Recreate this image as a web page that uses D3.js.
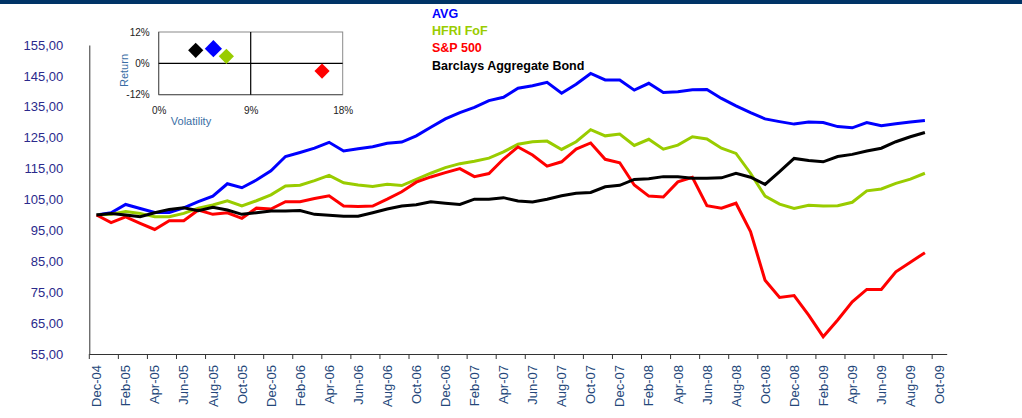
<!DOCTYPE html>
<html>
<head>
<meta charset="utf-8">
<script src="https://cdn.jsdelivr.net/npm/d3@7"></script>
<style>
  body { margin: 0; background: #fff; }
  svg { display: block; font-family: Arial, "Liberation Sans", sans-serif; }
</style>
</head>
<body>
<svg id="chart" width="1022" height="418"></svg>
<script>
// ---------- data ----------
const categories = ["Dec-04","Jan-05","Feb-05","Mar-05","Apr-05","May-05","Jun-05","Jul-05","Aug-05","Sep-05","Oct-05","Nov-05",
  "Dec-05","Jan-06","Feb-06","Mar-06","Apr-06","May-06","Jun-06","Jul-06","Aug-06","Sep-06","Oct-06","Nov-06",
  "Dec-06","Jan-07","Feb-07","Mar-07","Apr-07","May-07","Jun-07","Jul-07","Aug-07","Sep-07","Oct-07","Nov-07",
  "Dec-07","Jan-08","Feb-08","Mar-08","Apr-08","May-08","Jun-08","Jul-08","Aug-08","Sep-08","Oct-08","Nov-08",
  "Dec-08","Jan-09","Feb-09","Mar-09","Apr-09","May-09","Jun-09","Jul-09","Aug-09","Sep-09","Oct-09"];

const avg = [100.0,100.7,103.4,102.1,100.8,100.8,102.3,104.3,106.1,110.1,
  108.8,111.3,114.3,118.9,120.2,121.6,123.5,120.7,121.4,122.1,
  123.2,123.6,125.6,128.4,131.1,133.1,134.8,137.0,138.1,141.0,
  141.8,142.9,139.4,142.3,145.8,143.7,143.7,140.4,142.6,139.6,
  139.9,140.5,140.6,137.7,135.3,133.1,131.1,130.2,129.4,130.1,
  129.9,128.6,128.2,129.9,128.9,129.5,130.1,130.6];

const hfriFoF = [100.0,100.2,101.1,100.5,99.4,99.4,100.5,102.2,103.2,104.6,
  102.9,104.6,106.5,109.4,109.6,111.1,112.8,110.4,109.7,109.2,
  109.9,109.5,111.5,113.5,115.3,116.6,117.4,118.4,120.4,122.9,
  123.7,123.9,121.2,123.7,127.6,125.6,126.2,122.5,124.5,121.3,
  122.6,125.3,124.6,121.6,119.9,113.5,106.1,103.5,102.1,103.1,
  102.9,103.0,104.1,107.8,108.4,110.2,111.6,113.5];

const sp500 = [100.0,97.5,99.4,97.3,95.3,98.1,98.1,101.6,100.2,100.7,
  98.9,102.2,101.9,104.3,104.3,105.3,106.2,102.9,102.7,102.9,
  105.1,107.5,110.6,112.3,113.7,115.0,112.4,113.4,118.1,122.0,
  119.4,115.8,117.2,121.3,123.3,118.0,116.9,109.7,106.1,105.8,
  110.7,112.2,103.0,102.2,103.8,94.6,78.9,73.3,73.9,67.6,
  60.6,66.0,71.9,75.9,75.9,81.6,84.7,87.8];

const barclays = [100.0,100.5,100.0,99.4,100.7,101.8,102.3,101.4,102.5,101.6,
  100.2,100.7,101.3,101.3,101.4,100.2,99.9,99.6,99.6,100.7,
  101.9,102.9,103.3,104.3,103.8,103.4,105.1,105.1,105.6,104.5,
  104.2,105.1,106.2,107.0,107.3,109.1,109.6,111.5,111.7,112.4,
  112.4,111.9,111.9,112.0,113.5,112.2,109.9,114.0,118.3,117.6,
  117.2,118.9,119.6,120.7,121.6,123.7,125.3,126.7];

const seriesNames = ["AVG","HFRI FoF","S&P 500","Barclays Aggregate Bond"];
const seriesColors = ["#0000ff","#99cc00","#ff0000","#000000"];
const yTicks = [55,65,75,85,95,105,115,125,135,145,155];

// inset scatter: volatility (%) and return (%)
const insetVolatility = [5.35, 6.62, 15.98, 3.62];
const insetReturn = [5.6, 2.68, -2.94, 4.98];
const insetXTicks = [0, 9, 18];
const insetYTicks = [-12, 0, 12];

// ---------- drawing ----------
const svg = d3.select("#chart");
svg.append("rect").attr("x",0).attr("y",0).attr("width",1022).attr("height",4).attr("fill","#003366");

const x = d3.scaleBand().domain(categories).range([89.3, 946.7]).padding(0);
const y = d3.scaleLinear().domain([55,155]).range([354, 45]);
const bw = x.bandwidth();
const evenCats = categories.filter((d,i) => i % 2 === 0);

// x axis: tick marks at band edges
const xAxisTicks = svg.append("g").attr("transform","translate(0,354)")
  .call(d3.axisBottom(x).tickValues(evenCats).tickFormat("").tickSizeInner(5).tickSizeOuter(0));
xAxisTicks.selectAll(".tick").attr("transform", d => `translate(${x(d)},0)`);
xAxisTicks.select(".domain").attr("stroke","#333");
xAxisTicks.selectAll(".tick line").attr("stroke","#333");

// x axis labels at band centers
const xAxisLabels = svg.append("g").attr("transform","translate(0,354)")
  .call(d3.axisBottom(x).tickValues(evenCats).tickSize(0));
xAxisLabels.select(".domain").remove();
xAxisLabels.selectAll(".tick text")
  .attr("transform","rotate(-90)")
  .attr("x",-11).attr("y",0).attr("dy","0.36em")
  .style("text-anchor","end")
  .style("font-size","13px")
  .style("font-family","Arial, 'Liberation Sans', sans-serif")
  .attr("fill","#24477a");

// y axis
const yAxis = svg.append("g").attr("transform","translate(89.3,0)")
  .call(d3.axisLeft(y).tickValues(yTicks).tickSize(0).tickPadding(26)
    .tickFormat(d => d3.format(".2f")(d).replace(".", ",")));
yAxis.select(".domain").attr("stroke","#333");
yAxis.selectAll(".tick text").style("font-size","13px")
  .style("font-family","Arial, 'Liberation Sans', sans-serif")
  .attr("fill","#2a2a8c");

// lines
const line = d3.line().x((d,i) => x(categories[i]) + bw/2).y(d => y(d));
[avg, hfriFoF, sp500, barclays].forEach((s, k) => {
  svg.append("path").datum(s).attr("d", line)
    .attr("fill","none").attr("stroke", seriesColors[k])
    .attr("stroke-width",3).attr("stroke-linejoin","miter").attr("stroke-linecap","butt");
});

// legend
const legendY = [17.5, 35, 52.3, 69.5];
seriesNames.forEach((n,k) => {
  svg.append("text").attr("x",432).attr("y",legendY[k]).text(n)
    .attr("fill", seriesColors[k]).style("font-weight","bold").style("font-size","12.5px");
});

// inset scatter
const ix = d3.scaleLinear().domain([0,18]).range([158.7, 342.7]);
const iy = d3.scaleLinear().domain([-12,12]).range([94.7, 32]);
const inset = svg.append("g");
inset.append("rect").attr("x",ix(0)).attr("y",iy(12)).attr("width",ix(18)-ix(0)).attr("height",iy(-12)-iy(12))
  .attr("fill","#fff").attr("stroke","#8a8a8a").attr("stroke-width",1);
inset.append("line").attr("x1",ix(0)).attr("x2",ix(0)).attr("y1",iy(-12)).attr("y2",iy(12)).attr("stroke","#555");
inset.append("line").attr("x1",ix(0)).attr("x2",ix(18)).attr("y1",iy(-12)).attr("y2",iy(-12)).attr("stroke","#555");
const ixAxis = inset.append("g").attr("transform",`translate(0,${iy(-12)})`)
  .call(d3.axisBottom(ix).tickValues(insetXTicks).tickSize(0).tickPadding(12).tickFormat(d => d + "%"));
ixAxis.select(".domain").remove();
ixAxis.selectAll("text").style("font-size","10px").attr("fill","#222");
const iyAxis = inset.append("g").attr("transform",`translate(${ix(0)},0)`)
  .call(d3.axisLeft(iy).tickValues(insetYTicks).tickSize(0).tickPadding(9).tickFormat(d => d + "%"));
iyAxis.select(".domain").remove();
iyAxis.selectAll("text").style("font-size","10px").attr("fill","#222");
// crossing axes
inset.append("line").attr("x1",ix(0)).attr("x2",ix(18)).attr("y1",iy(0)).attr("y2",iy(0)).attr("stroke","#000").attr("stroke-width",1.2);
inset.append("line").attr("x1",ix(9)).attr("x2",ix(9)).attr("y1",iy(-12)).attr("y2",iy(12)).attr("stroke","#000").attr("stroke-width",1.2);
inset.append("text").attr("x",191).attr("y",125).attr("text-anchor","middle").text("Volatility")
  .attr("fill","#3a6ea5").style("font-size","11px");
inset.append("text").attr("transform","translate(128,70.5) rotate(-90)").attr("text-anchor","middle").text("Return")
  .attr("fill","#3a6ea5").style("font-size","11px");
const diamondSizes = [8.6, 7.6, 7.6, 7.6];
[0,3,1,2].forEach(k => {
  const cx = ix(insetVolatility[k]), cy = iy(insetReturn[k]), r = diamondSizes[k];
  inset.append("path").attr("d", `M${cx},${cy-r}L${cx+r},${cy}L${cx},${cy+r}L${cx-r},${cy}Z`)
    .attr("fill", seriesColors[k]);
});
</script>
</body>
</html>
